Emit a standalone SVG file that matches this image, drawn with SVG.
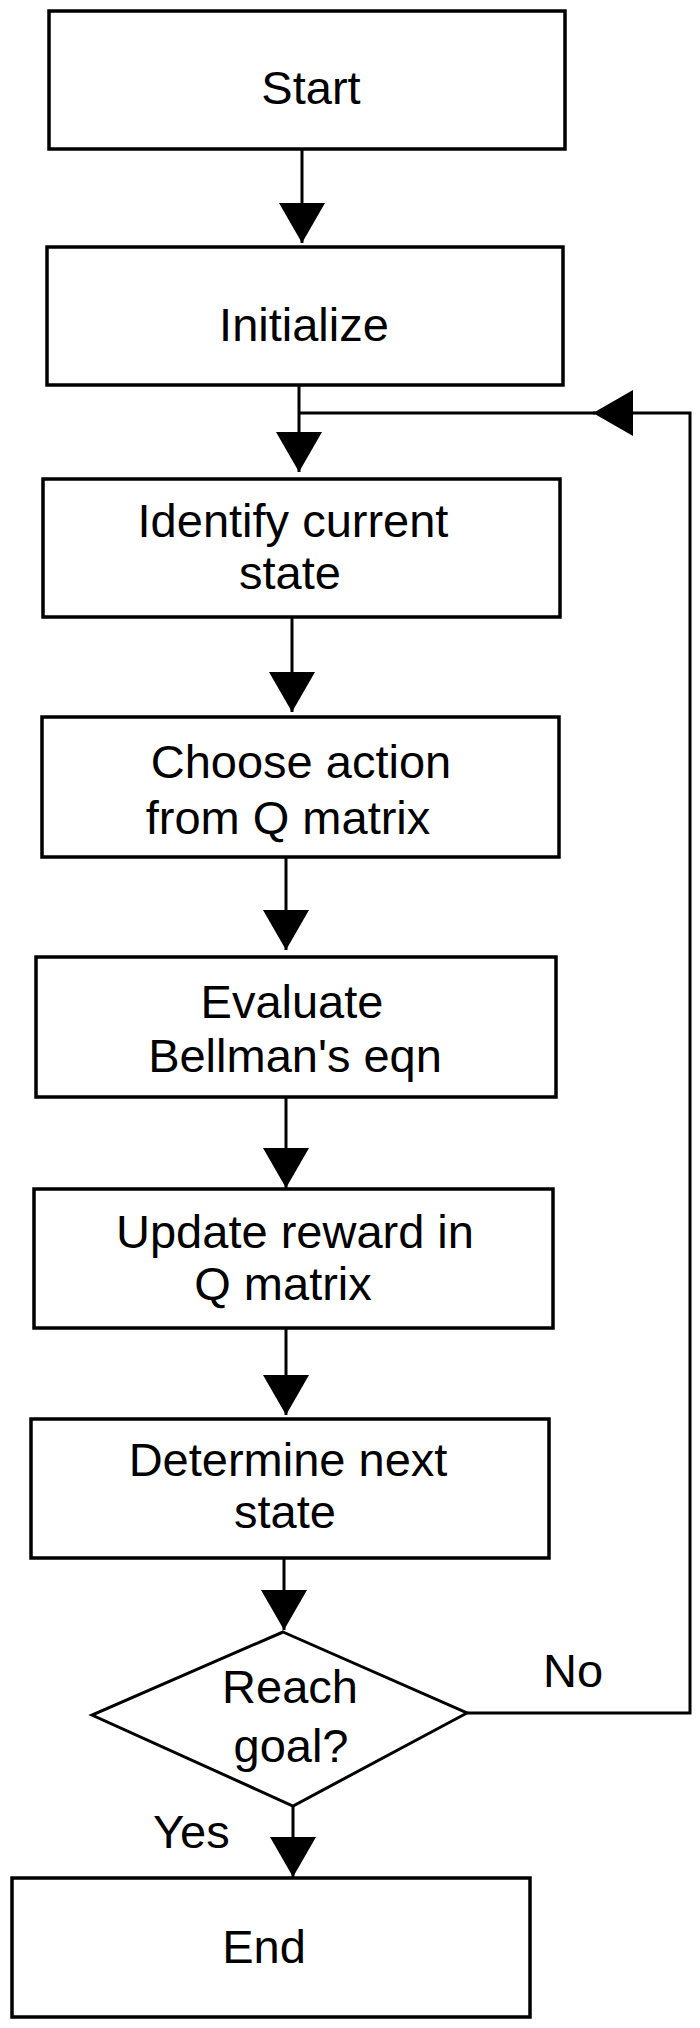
<svg xmlns="http://www.w3.org/2000/svg" width="700" height="2028" viewBox="0 0 700 2028">
  <defs>
    <marker id="arrow" markerUnits="userSpaceOnUse" markerWidth="40" markerHeight="46" refX="40" refY="23" orient="auto" viewBox="0 0 40 46">
      <path d="M0,0 L40,23 L0,46 Z" fill="#000"/>
    </marker>
    <style>
      .box { fill: #fff; stroke: #000; stroke-width: 3.5; }
      .dia { fill: #fff; stroke: #000; stroke-width: 3; stroke-linejoin: miter; }
      .lbl { font-family: "Liberation Sans", Arial, sans-serif; font-size: 47px; fill: #000; text-anchor: middle; }
      .edge { font-family: "Liberation Sans", Arial, sans-serif; font-size: 47px; fill: #000; }
      .conn { fill: none; stroke: #000; stroke-width: 3; }
    </style>
  </defs>
  <rect width="700" height="2028" fill="#fff"/>

  <g id="connectors">
    <path class="conn" d="M302,149 V243" marker-end="url(#arrow)"/>
    <path class="conn" d="M299,385 V472" marker-end="url(#arrow)"/>
    <path class="conn" d="M292,617 V712" marker-end="url(#arrow)"/>
    <path class="conn" d="M286,857 V950" marker-end="url(#arrow)"/>
    <path class="conn" d="M286,1097 V1188" marker-end="url(#arrow)"/>
    <path class="conn" d="M286,1328 V1415" marker-end="url(#arrow)"/>
    <path class="conn" d="M284,1558 V1630" marker-end="url(#arrow)"/>
    <path class="conn" d="M293,1806 V1877" marker-end="url(#arrow)"/>
    <path class="conn" d="M467,1713 H690 V413 H593" marker-end="url(#arrow)"/>
    <path class="conn" d="M595,413 H299"/>
    <text class="edge" x="543" y="1687">No</text>
    <text class="edge" x="153" y="1848">Yes</text>
  </g>

  <g id="start">
    <rect class="box" x="49" y="11" width="516" height="138"/>
    <text class="lbl" x="311" y="104">Start</text>
  </g>
  <g id="initialize">
    <rect class="box" x="47" y="247" width="516" height="138"/>
    <text class="lbl" x="304" y="341">Initialize</text>
  </g>
  <g id="identify">
    <rect class="box" x="43" y="479" width="517" height="138"/>
    <text class="lbl" x="293" y="537">Identify current</text>
    <text class="lbl" x="290" y="589">state</text>
  </g>
  <g id="choose">
    <rect class="box" x="42" y="717" width="517" height="140"/>
    <text class="lbl" x="301" y="778">Choose action</text>
    <text class="lbl" x="288" y="834">from Q matrix</text>
  </g>
  <g id="evaluate">
    <rect class="box" x="36" y="957" width="520" height="140"/>
    <text class="lbl" x="292" y="1018">Evaluate</text>
    <text class="lbl" x="295" y="1072">Bellman's eqn</text>
  </g>
  <g id="update">
    <rect class="box" x="34" y="1189" width="519" height="139"/>
    <text class="lbl" x="295" y="1248">Update reward in</text>
    <text class="lbl" x="283" y="1300">Q matrix</text>
  </g>
  <g id="determine">
    <rect class="box" x="31" y="1419" width="518" height="139"/>
    <text class="lbl" x="288" y="1476">Determine next</text>
    <text class="lbl" x="285" y="1528">state</text>
  </g>
  <g id="decision">
    <polygon class="dia" points="283,1632 467,1713 293,1806 92,1715"/>
    <text class="lbl" x="290" y="1703">Reach</text>
    <text class="lbl" x="291" y="1762">goal?</text>
  </g>
  <g id="end">
    <rect class="box" x="12" y="1878" width="518" height="139"/>
    <text class="lbl" x="264" y="1963">End</text>
  </g>
</svg>
